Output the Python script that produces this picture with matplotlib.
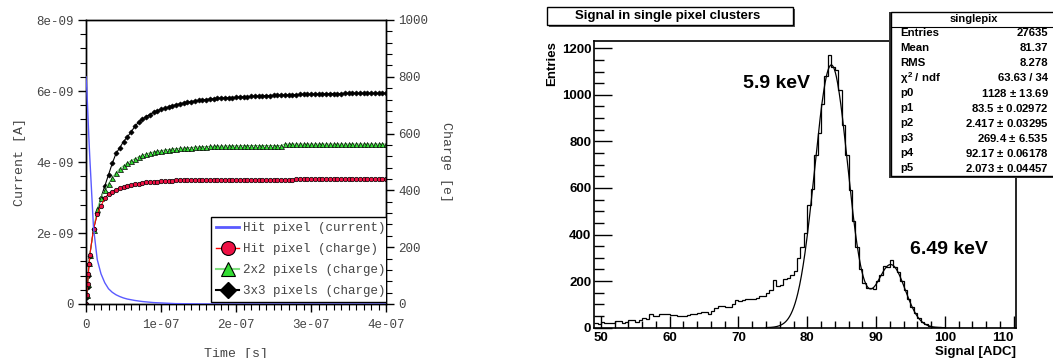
import numpy as np
import matplotlib.pyplot as plt
from matplotlib.lines import Line2D
from matplotlib.patches import Rectangle
from matplotlib.ticker import MultipleLocator, FixedLocator

# ---------------- left panel data (time in ns) ----------------
t_ns = [0, 1, 2, 3, 4, 5, 10, 15, 20, 25, 30, 35, 40, 45, 50, 55, 60, 65, 70, 75,
        80, 85, 90, 95, 100, 105, 110, 115, 120, 125, 130, 135, 140, 145, 150,
        155, 160, 165, 170, 175, 180, 185, 190, 195, 200, 205, 210, 215, 220,
        225, 230, 235, 240, 245, 250, 255, 260, 265, 270, 275, 280, 285, 290,
        295, 300, 305, 310, 315, 320, 325, 330, 335, 340, 345, 350, 355, 360,
        365, 370, 375, 380, 385, 390, 395, 400]

# hit pixel current, units of 1e-9 A
current_nA = [6.4, 6.1, 5.6, 5.1, 4.6, 4.15, 2.15, 1.25, 0.85, 0.6, 0.43, 0.33,
              0.26, 0.21, 0.17, 0.14, 0.12, 0.1, 0.085, 0.07, 0.06, 0.05, 0.04,
              0.035, 0.03, 0.025, 0.02, 0.015, 0.01, 0.01, 0.008, 0.006, 0.005,
              0.004, 0.003, 0.002, 0.002, 0.001, 0.001, 0.001, 0, 0, 0, 0, 0,
              0, 0, 0, 0, 0, 0, 0, 0, 0, 0, 0, 0, 0, 0, 0, 0, 0, 0, 0, 0, 0, 0,
              0, 0, 0, 0, 0, 0, 0, 0, 0, 0, 0, 0, 0, 0, 0, 0, 0, 0]

# collected charge [e]
q_hit = [0, 30, 70, 106, 140, 172, 263, 316, 346, 372, 388, 396, 403, 408, 412,
         416, 419, 422, 424, 426, 428, 429, 430, 431, 432, 433, 434, 434, 435,
         435, 436, 437, 437, 437, 437, 437, 437, 437, 437, 437, 437, 437, 437,
         437, 437, 437, 437, 437, 437, 437, 437, 437, 437, 437, 437, 437, 437,
         437, 437, 437, 440, 440, 440, 440, 440, 440, 440, 440, 440, 440, 440,
         440, 440, 440, 440, 440, 440, 440, 440, 440, 440, 440, 440, 440, 440]
q_2x2 = [0, 30, 70, 108, 145, 172, 262, 335, 375, 400, 424, 445, 462, 476, 487,
         496, 505, 511, 518, 523, 528, 532, 535, 538, 540, 542, 544, 546, 547,
         548, 549, 550, 551, 552, 553, 554, 554, 555, 555, 556, 556, 556, 557,
         557, 557, 557, 558, 558, 558, 558, 558, 558, 558, 558, 558, 558, 558,
         563, 563, 563, 563, 563, 563, 563, 563, 563, 563, 563, 563, 563, 563,
         563, 563, 563, 563, 563, 563, 563, 563, 563, 563, 563, 563, 563, 563]
q_3x3 = [0, 25, 60, 100, 140, 170, 263, 320, 375, 415, 455, 495, 530, 550, 572,
         588, 605, 625, 640, 650, 660, 667, 675, 680, 686, 690, 694, 698, 702,
         705, 708, 710, 713, 715, 717, 719, 720, 722, 723, 724, 725, 726, 727,
         727, 728, 729, 730, 730, 731, 732, 732, 733, 734, 734, 735, 735, 735,
         736, 736, 737, 737, 738, 738, 738, 739, 739, 739, 740, 740, 741, 741,
         741, 741, 742, 742, 742, 742, 742, 742, 742, 742, 742, 742, 742, 742]

# ---------------- right panel data ----------------
bin_lo = 49.0
bin_w = 0.5
counts = [22, 17, 24, 22, 22, 22, 29, 29, 22, 24,          # 49.0 - 53.5
          31, 31, 24, 31, 43, 38, 57, 50, 50, 60,          # 54.0 - 58.5
          57, 57, 54, 54, 50, 50, 50, 54, 57, 57,          # 59.0 - 63.5
          64, 68, 68, 57, 72, 86, 93, 93, 89, 89,          # 64.0 - 68.5
          100, 118, 115, 118, 122, 125, 125, 128, 135, 135,  # 69.0 - 73.5
          148, 160, 205, 180, 185, 210, 212, 225, 245, 300,  # 74.0 - 78.5
          345, 405, 525, 595, 740, 835, 960, 1080, 1170, 1120,  # 79.0 - 83.5
          1105, 1020, 870, 740, 590, 460, 345, 250, 190, 172,  # 84.0 - 88.5
          170, 168, 200, 225, 265, 262, 292, 260, 240, 200,  # 89.0 - 93.5
          160, 125, 90, 62, 40, 25, 14, 8, 4, 2,             # 94.0 - 98.5
          1, 0, 0, 0, 0, 0, 0, 0, 0, 0,                      # 99.0 - 103.5
          0, 0, 0, 0, 0, 0, 0, 0, 0, 0, 0, 0]                # 104.0 - 109.5

adc_ticks = [50, 60, 70, 80, 90, 100, 110]
stat_names = ["Entries", "Mean", "RMS", r"$\chi^{2}$ / ndf", "p0", "p1", "p2",
              "p3", "p4", "p5"]
stat_values = ["27635", "81.37", "8.278", "63.63 / 34", "1128 $\\pm$ 13.69",
               "83.5 $\\pm$ 0.02972", "2.417 $\\pm$ 0.03295", "269.4 $\\pm$ 6.535",
               "92.17 $\\pm$ 0.06178", "2.073 $\\pm$ 0.04457"]
fit_par = [1128, 83.5, 2.417, 269.4, 92.17, 2.073]

W, H = 1053, 358
fig = plt.figure(figsize=(W / 100, H / 100), dpi=100)
mono = 'Liberation Mono'
grey = '#444444'
plt.rcParams['mathtext.fontset'] = 'custom'
plt.rcParams['mathtext.rm'] = 'Liberation Sans:bold'
plt.rcParams['mathtext.it'] = 'Liberation Sans:bold'

# ====== left panel ======
ax = fig.add_axes([86 / W, 1 - 304 / H, 300 / W, 284 / H])
ax2 = ax.twinx()
t_s = np.array(t_ns) * 1e-9
ax.plot(t_s, np.array(current_nA) * 1e-9, color='#5a5aff', lw=1.0, zorder=3)
ax2.plot(t_s, q_3x3, color='black', lw=0.8, marker='D', ms=2.6, mfc='black',
         mec='black', mew=0.5)
ax2.plot(t_s, q_2x2, color='#80e080', lw=0.8, marker='^', ms=3.6, mfc='#33dd33',
         mec='black', mew=0.5)
ax2.plot(t_s, q_hit, color='red', lw=0.8, marker='o', ms=3.2, mfc='#ee1144',
         mec='black', mew=0.5)
ax.set_zorder(ax2.get_zorder() + 1)
ax.patch.set_visible(False)

ax.set_xlim(0, 4e-7)
ax.set_ylim(0, 8e-9)
ax2.set_ylim(0, 1000)
ax.xaxis.set_major_locator(FixedLocator([0, 1e-7, 2e-7, 3e-7, 4e-7]))
ax.xaxis.set_minor_locator(MultipleLocator(1e-8))
ax.yaxis.set_major_locator(FixedLocator([0, 2e-9, 4e-9, 6e-9, 8e-9]))
ax.yaxis.set_minor_locator(MultipleLocator(4e-10))
ax2.yaxis.set_major_locator(MultipleLocator(200))
ax2.yaxis.set_minor_locator(MultipleLocator(40))
ax.set_xticklabels(['0', '1e-07', '2e-07', '3e-07', '4e-07'])
ax.set_yticklabels(['0', '2e-09', '4e-09', '6e-09', '8e-09'])
for a in (ax, ax2):
    a.tick_params(which='major', direction='out', length=6, width=1, colors='black',
                  labelcolor=grey, labelsize=9, pad=3)
    a.tick_params(which='minor', direction='out', length=4, width=0.8)
    for lab in a.get_xticklabels() + a.get_yticklabels():
        lab.set_family(mono)
    for s in a.spines.values():
        s.set_linewidth(1.0)
ax.tick_params(axis='x', pad=5)
for lab in ax2.get_yticklabels():
    lab.set_family(mono)
ax.set_xlabel('Time [s]', family=mono, color=grey, fontsize=9.5, labelpad=12)
ax.set_ylabel('Current [A]', family=mono, color=grey, fontsize=9.5, labelpad=7)
ax2.set_ylabel('Charge [e]', family=mono, color=grey, fontsize=9.5, rotation=-90,
               labelpad=17)

handles = [Line2D([], [], color='#5a5aff', lw=2),
           Line2D([], [], color='red', lw=1, marker='o', ms=10, mfc='#ee1144',
                  mec='black', mew=0.8),
           Line2D([], [], color='#80e080', lw=1.5, marker='^', ms=10,
                  mfc='#33dd33', mec='black', mew=0.8),
           Line2D([], [], color='black', lw=1.5, marker='D', ms=8, mfc='black',
                  mec='black')]
labels = ['Hit pixel (current)', 'Hit pixel (charge)', '2x2 pixels (charge)',
          '3x3 pixels (charge)']
# legend box is wider than the pad: ROOT cuts it at the frame edge
leg = ax.legend(handles, labels, loc='lower left',
                bbox_to_anchor=((210.7 - 86) / 300, 0.006),
                frameon=True, fancybox=False, edgecolor='black', framealpha=1,
                prop={'family': mono, 'size': 9}, handlelength=1.9,
                handletextpad=0.3, borderpad=0.4, labelspacing=0.73,
                borderaxespad=0.0)
leg.get_frame().set_linewidth(1.0)
leg.get_frame().set_clip_box(ax.bbox)
leg.get_frame().set_clip_on(True)
for txt in leg.get_texts():
    txt.set_color(grey)
    txt.set_clip_box(ax.bbox)
    txt.set_clip_on(True)

# ====== right panel ======
bx = fig.add_axes([594.1 / W, 1 - 327.7 / H, 421.5 / W, 286.7 / H])
edges = bin_lo + bin_w * np.arange(len(counts) + 1)
bx.stairs(counts, edges, color='black', lw=0.9, baseline=None)
xf = np.linspace(74, 100, 400)
p = fit_par
fit = p[0] * np.exp(-0.5 * ((xf - p[1]) / p[2]) ** 2) + \
      p[3] * np.exp(-0.5 * ((xf - p[4]) / p[5]) ** 2)
bx.plot(xf, fit, color='black', lw=0.9)
bx.set_xlim(49, 110.3)
bx.set_ylim(0, 1231)
bx.xaxis.set_major_locator(FixedLocator(adc_ticks))
bx.xaxis.set_minor_locator(MultipleLocator(2))
bx.yaxis.set_major_locator(MultipleLocator(200))
bx.yaxis.set_minor_locator(MultipleLocator(50))
xlabs = bx.set_xticklabels([str(v) for v in adc_ticks])
xlabs[-1].set_horizontalalignment('right')
bx.tick_params(which='major', direction='in', length=9, width=1, labelsize=9.5)
bx.tick_params(which='minor', direction='in', length=5, width=1)
bx.tick_params(axis='y', which='major', length=13, pad=2)
bx.tick_params(axis='y', which='minor', length=7)
bx.tick_params(axis='x', pad=3)
for lab in bx.get_xticklabels() + bx.get_yticklabels():
    lab.set_family('Liberation Sans')
    lab.set_fontweight('bold')
for s in bx.spines.values():
    s.set_linewidth(1.2)
bx.set_xlabel('Signal [ADC]', family='Liberation Sans', fontweight='bold',
              fontsize=9.5, loc='right', labelpad=1.5)
bx.set_ylabel('Entries', family='Liberation Sans', fontweight='bold',
              fontsize=9.5, loc='top', labelpad=3)
bx.text(75.55, 1047, '5.9 keV', family='Liberation Sans', fontweight='bold',
        fontsize=14, ha='center', va='center')
bx.text(100.6, 337, '6.49 keV', family='Liberation Sans', fontweight='bold',
        fontsize=14, ha='center', va='center')

# title box
fig.patches.append(Rectangle((548.5 / W, 1 - 27 / H), 246.4 / W, 17.7 / H,
                             transform=fig.transFigure, facecolor='#555555',
                             edgecolor='none'))
fig.patches.append(Rectangle((546.5 / W, 1 - 25 / H), 246.4 / W, 17.7 / H,
                             transform=fig.transFigure, facecolor='white',
                             edgecolor='black', lw=1))
fig.text(668 / W, 1 - 16 / H, 'Signal in single pixel clusters',
         family='Liberation Sans', fontweight='bold', fontsize=9.5,
         ha='center', va='center')

# stats box
fig.patches.append(Rectangle((889.2 / W, 1 - 178 / H), 180 / W, 166 / H,
                             transform=fig.transFigure, facecolor='#333333',
                             edgecolor='none'))
fig.patches.append(Rectangle((891.2 / W, 1 - 176 / H), 180 / W, 164.3 / H,
                             transform=fig.transFigure, facecolor='white',
                             edgecolor='black', lw=1))
fig.lines.append(Line2D([891.2 / W, 1.0], [1 - 26.7 / H, 1 - 26.7 / H],
                        transform=fig.transFigure, color='black', lw=0.8))
fig.text(973.8 / W, 1 - 19 / H, 'singlepix', family='Liberation Sans',
         fontweight='bold', fontsize=8, ha='center', va='center')
for i, (nm, val) in enumerate(zip(stat_names, stat_values)):
    y = 1 - (33.3 + 15.0 * i) / H
    fig.text(900 / W, y, nm, family='Liberation Sans', fontweight='bold',
             fontsize=8.2, ha='left', va='center')
    fig.text(1048.5 / W, y, val, family='Liberation Sans', fontweight='bold',
             fontsize=8.2, ha='right', va='center')

fig.savefig('out.png', dpi=100)
